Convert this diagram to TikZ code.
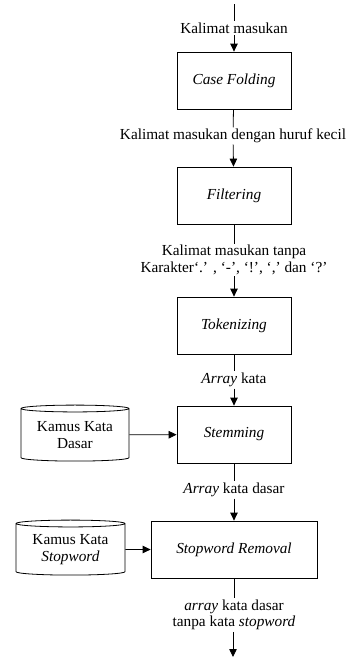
\documentclass[tikz,border=0pt]{standalone}
\usepackage{fontspec}
\setmainfont{Liberation Serif}
\newfontfamily\tnr{Liberation Serif}
\usetikzlibrary{arrows.meta,shapes.geometric}
\begin{document}
\begin{tikzpicture}[x=1pt,y=-1pt,
  every node/.style={font=\tnr\fontsize{15.3}{16.5}\selectfont},
  proc/.style={draw,line width=0.8pt,minimum width=114pt,minimum height=57pt,inner sep=0pt,font=\tnr\fontsize{15.3}{16.5}\selectfont\itshape},
  lbl/.style={inner sep=1.5pt,align=center},
  db/.style={draw,line width=0.8pt,cylinder,shape border rotate=90,aspect=0.09,minimum width=108pt,minimum height=56pt,inner sep=0pt,align=center},
  ln/.style={line width=0.8pt},
  arr/.style={line width=0.8pt,-{Triangle[width=7.5pt,length=8pt]}}]
\useasboundingbox (0,0) rectangle (350,657);
\coordinate (start) at (234,4);
\node[lbl] (l0) at (234,28) {Kalimat masukan};
\node[proc] (b1) at (234,80.5) {Case Folding};
\node[lbl] (l1) at (233,136) {Kalimat masukan dengan huruf kecil};
\node[proc] (b2) at (234,195.5) {Filtering};
\node[lbl] (l2) at (234,260) {Kalimat masukan tanpa\\Karakter‘.’ , ‘-’, ‘!’, ‘,’ dan ‘?’};
\node[proc] (b3) at (234,325.5) {Tokenizing};
\node[lbl] (l3) at (234,380) {\textit{Array} kata};
\node[proc] (b4) at (234,434.5) {Stemming};
\node[db] (c1) at (75,435) {Kamus Kata\\Dasar};
\node[lbl] (l4) at (234,490) {\textit{Array} kata dasar};
\node[proc,minimum width=166pt] (b5) at (234,549.5) {Stopword Removal};
\node[db,minimum width=109pt,minimum height=55pt] (c2) at (70.5,549.5) {Kamus Kata\\\textit{Stopword}};
\node[lbl] (l5) at (234,615) {\textit{array} kata dasar\\tanpa kata \textit{stopword}};
\coordinate (end) at (233,657);
\draw[ln] (start) -- (l0);
\draw[arr] (l0) -- (b1);
\draw[ln] (b1) -- (l1);
\draw[arr] (l1) -- (b2);
\draw[ln] (b2) -- (l2);
\draw[arr] (l2) -- (b3);
\draw[ln] (b3) -- (l3);
\draw[arr] (l3) -- (b4);
\draw[ln] (b4) -- (l4);
\draw[arr] (l4) -- (b5);
\draw[ln] (b5) -- (l5);
\draw[arr] (l5.south -| end) -- (end);
\draw[arr] (c1) -- (b4);
\draw[arr] (c2) -- (b5);
\end{tikzpicture}
\end{document}
